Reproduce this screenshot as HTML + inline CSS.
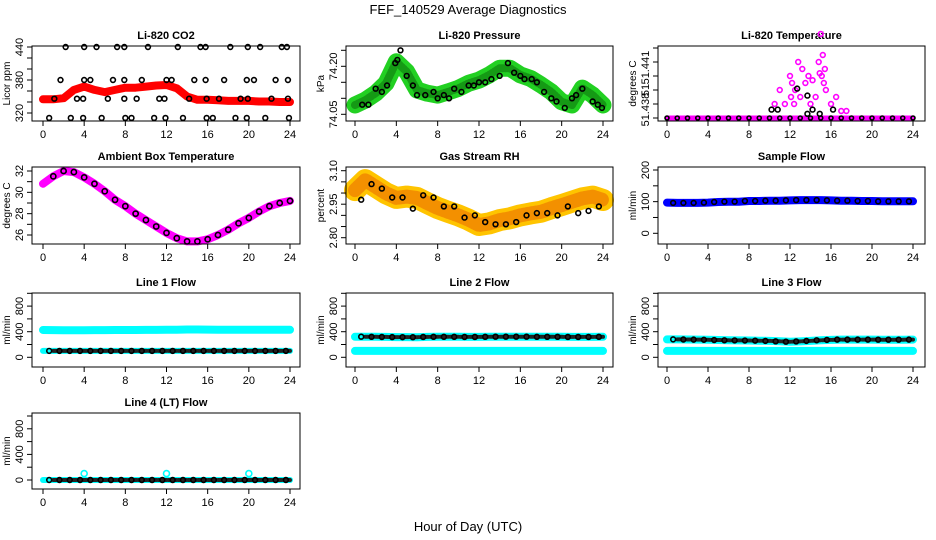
<!DOCTYPE html>
<html><head><meta charset="utf-8">
<style>
html,body{margin:0;padding:0;background:#fff;}
svg{display:block;font-family:"Liberation Sans",Arial,sans-serif;}
</style></head>
<body>
<svg id="chart" width="936" height="540" viewBox="0 0 936 540" xmlns="http://www.w3.org/2000/svg">
<rect width="936" height="540" fill="#fff"/>
<text x="468" y="14" text-anchor="middle" font-size="13">FEF_140529  Average Diagnostics</text>
<text x="468" y="531" text-anchor="middle" font-size="13">Hour of Day (UTC)</text>
</svg>
<script>
// ---------- data ----------
const hours = [0,1,2,3,4,5,6,7,8,9,10,11,12,13,14,15,16,17,18,19,20,21,22,23,24];
const xTicks = [0,4,8,12,16,20,24];

const co2Band = [345,345,347,362,368,362,358,362,366,366,368,370,371,365,350,344,344,343,342,342,342,341,341,340,340];
const co2PtsH = [2.2,4.0,5.2,7.2,7.9,10.2,13.1,15.3,15.8,18.2,19.9,21.1,23.2,23.7,1.7,4.0,4.6,6.8,7.9,9.6,12.0,12.5,14.7,15.8,17.6,19.8,20.5,22.6,23.8,1.1,3.3,3.9,6.3,7.9,9.1,11.3,11.8,14.2,15.9,17.1,19.2,19.9,22.2,23.8,0.6,2.7,3.9,5.7,8.0,8.6,10.8,11.9,13.6,15.9,16.5,18.7,19.8,21.6,23.9];
const co2PtsV = [440,440,440,440,440,440,440,440,440,440,440,440,440,440,380,380,380,380,380,380,380,380,380,380,380,380,380,380,380,346,346,346,346,346,346,346,346,346,346,346,346,346,346,346,311,311,311,311,311,311,311,311,311,311,311,311,311,311,311];

const presBand = [74.079,74.094,74.116,74.147,74.214,74.183,74.126,74.116,74.110,74.120,74.131,74.147,74.157,74.173,74.194,74.194,74.173,74.162,74.142,74.120,74.089,74.079,74.132,74.110,74.079];
const presPtsH = [0.7,1.3,2.0,2.6,3.1,3.9,4.1,4.4,5.0,5.6,6.0,6.8,7.6,8.0,8.6,9.1,9.6,10.3,11.0,11.5,12.0,12.6,13.2,14.0,14.8,15.4,16.0,16.4,17.1,17.6,18.3,19.0,19.5,20.3,21.0,21.4,22.0,23.0,23.5,23.9];
const presPtsV = [74.08,74.08,74.13,74.12,74.14,74.21,74.22,74.25,74.17,74.14,74.11,74.11,74.12,74.10,74.11,74.10,74.13,74.12,74.14,74.14,74.15,74.15,74.16,74.17,74.21,74.18,74.17,74.16,74.16,74.15,74.12,74.10,74.09,74.07,74.10,74.11,74.13,74.09,74.08,74.07];

const tempBand = [0,0,0,0,0,0,0,0,0,0,0,0,0,0,0,0,0,0,0,0,0,0,0,0,0];
const tempMagH = [10.5,11,11.5,12,12.2,12.5,13,13.5,13.8,14,14.5,14.8,15,15.1,15.2,15.5,16,16.5,17,17.5,12.1,12.8,13.2,14.2,15.4,12.4,14.9,15.3];
const tempMagV = [1,2,1,3,2.5,2,1.5,2.5,3,1,1.5,4,6,3,4.5,2,1,1.5,0.5,0.5,1.5,4,3.5,2.7,3.5,1,3.2,2.5];
const tempBlkH = [12.7,13.7,10.2,10.8,14.2,13.7,14.9,16.2];
const tempBlkV = [2.1,1.6,0.6,0.6,0.6,0.3,0.3,0.6];

const ambBand = [30.8,31.5,32.0,31.9,31.4,30.8,30.1,29.3,28.7,28.0,27.4,26.8,26.2,25.7,25.4,25.4,25.6,26.0,26.5,27.1,27.6,28.2,28.7,29.0,29.2];

const rhBand = [3.013,3.058,3.028,2.999,2.978,2.984,2.978,2.955,2.933,2.916,2.900,2.880,2.857,2.864,2.879,2.887,2.900,2.909,2.916,2.932,2.946,2.961,2.976,2.984,2.969];
const rhPtsV = [2.97,3.04,3.02,2.98,2.98,2.93,2.99,2.98,2.94,2.94,2.89,2.90,2.87,2.86,2.86,2.87,2.90,2.91,2.91,2.90,2.94,2.91,2.92,2.94];

const sampleBand = [97,96,96,96,97,99,100,100,102,102,103,103,104,105,105,105,104,103,103,102,102,101,101,101,101];

const line1Cyan = [427,425,424,424,424,425,425,426,426,427,428,428,430,432,434,434,433,432,431,430,430,430,430,430,430];
const line1Black = [100,100,100,100,100,100,100,100,100,100,100,100,100,100,100,100,100,100,100,100,100,100,100,100,100];
const line2Cyan = [100,100,100,100,100,100,100,100,100,100,100,100,100,100,100,100,100,100,100,100,100,100,100,100,100];
const line2Black = [320,322,320,318,316,315,314,318,320,320,320,318,318,320,322,322,322,322,320,320,320,318,318,318,320];
const line3Cyan = [100,100,100,100,100,100,100,100,100,100,100,100,100,100,100,100,100,100,100,100,100,100,100,100,100];
const line3Black = [280,280,278,276,274,270,266,264,262,260,256,250,244,248,256,266,272,276,276,276,276,275,275,275,276];
const line4Cyan = [0,0,0,0,0,0,0,0,0,0,0,0,0,0,0,0,0,0,0,0,0,0,0,0,0];
const line4Black = [0,0,0,0,0,0,0,0,0,0,0,0,0,0,0,0,0,0,0,0,0,0,0,0,0];
const line4SpikeH = [4,12,20];
const line4SpikeV = [100,100,100];

const flowTicks = [0,200,400,600,800,1000];
const flowLabels = [0,400,800];

// ---------- drawing ----------
const NS = 'http://www.w3.org/2000/svg';
const svg = document.getElementById('chart');
function mk(tag, attrs, parent){
  const e = document.createElementNS(NS, tag);
  for (const k in attrs) e.setAttribute(k, attrs[k]);
  (parent||svg).appendChild(e);
  return e;
}
const cols = [{l:32,r:300,x0:43,x24:290},{l:346,r:613,x0:355,x24:603},{l:658,r:925,x0:667,x24:913}];
const rows = [{t:46,b:121},{t:167,b:244},{t:293,b:367},{t:413,b:489}];

function panel(name, ci, ri, title, ylab, yv1, yp1, yv2, yp2, yTicks, yLabs, yLabTexts){
  const c = cols[ci], r = rows[ri];
  const g = mk('g', {});
  
  
  const xs = h => c.x0 + (c.x24 - c.x0) * h / 24;
  const ys = v => yp1 + (v - yv1) * (yp2 - yp1) / (yv2 - yv1);
  const t = mk('text', {x:(c.l+c.r)/2, y:r.t-7, 'text-anchor':'middle', 'font-size':11, 'font-weight':'bold'}, g);
  t.textContent = title;
  
  
  const plot = mk('g', {}, g);
  
  
  const box = mk('rect', {x:c.l, y:r.t, width:c.r-c.l, height:r.b-r.t, fill:'none', stroke:'#000', 'stroke-width':1}, g);
  
  
  const xa = mk('g', {}, g);
  
  
  xTicks.forEach(h => {
    mk('line', {x1:xs(h), x2:xs(h), y1:r.b, y2:r.b+5, stroke:'#000'}, xa);
    const tl = mk('text', {x:xs(h), y:r.b+17, 'text-anchor':'middle', 'font-size':11}, xa);
    tl.textContent = h;
  });
  const ya = mk('g', {}, g);
  
  
  yTicks.forEach(v => mk('line', {x1:c.l-5, x2:c.l, y1:ys(v), y2:ys(v), stroke:'#000'}, ya));
  yLabs.forEach((v,i) => {
    const yy = ys(v), xx = c.l-9;
    const tl = mk('text', {x:xx, y:yy, transform:`rotate(-90 ${xx} ${yy})`, 'text-anchor':'middle', 'font-size':11}, ya);
    tl.textContent = yLabTexts ? yLabTexts[i] : v;
  });
  const yt = mk('text', {x:c.l-22, y:(r.t+r.b)/2, transform:`rotate(-90 ${c.l-22} ${(r.t+r.b)/2})`, 'text-anchor':'middle', 'font-size':10}, g);
  yt.textContent = ylab;
  
  
  return {
    band(hs, vs, color, w, nm, dash){
      const pts = hs.map((h,i) => xs(h).toFixed(1)+','+ys(vs[i]).toFixed(1)).join(' ');
      const at = {points:pts, fill:'none', stroke:color, 'stroke-width':w, 'stroke-linejoin':'round', 'stroke-linecap':'round'};
      if (dash) at['stroke-dasharray'] = dash;
      const p = mk('polyline', at, plot);
      
      
    },
    pts(hs, vs, color, nm, rr){
      hs.forEach((h,i) => {
        const e = mk('circle', {cx:xs(h), cy:ys(vs[i]), r:rr||2.4, fill:'none', stroke:color, 'stroke-width':1.6}, plot);
        
        
      });
    }
  };
}

// CO2
let p = panel('co2', 0, 0, 'Li-820 CO2', 'Licor ppm', 320, 113, 440, 47, [320,340,360,380,400,420,440], [320,380,440]);
p.band(hours, co2Band, '#ff0000', 8, 'co2-band');
p.pts(co2PtsH, co2PtsV, '#000', 'co2-point');

// Pressure
p = panel('pressure', 1, 0, 'Li-820 Pressure', 'kPa', 74.05, 114.3, 74.20, 66.3, [74.05,74.10,74.15,74.20,74.25], [74.05,74.20], ['74.05','74.20']);
p.band(hours, presBand, '#22d022', 17, 'pressure-band');
p.band(hours, presBand, '#159a15', 8, 'pressure-band-core', '1 2');
p.pts(presPtsH, presPtsV, '#000', 'pressure-point');

// Li-820 temperature
p = panel('li820-temp', 2, 0, 'Li-820 Temperature', 'degrees C', 0, 118, 1, 104, [0,1,2,3,4,5], [0.6,2,3.6], ['51.438','51','51.441']);
p.band(hours, tempBand, '#ff00ff', 5, 'li820-temp-band');
p.pts(tempMagH, tempMagV, '#ff00ff', 'li820-temp-point');
p.pts(hours, tempBand, '#000', 'li820-temp-mean-point', 2);
p.pts(tempBlkH, tempBlkV, '#000', 'li820-temp-mean-point');

// Ambient
p = panel('ambient-temp', 0, 1, 'Ambient Box Temperature', 'degrees C', 26, 235, 32, 171, [26,27,28,29,30,31,32], [26,28,30,32]);
p.band(hours, ambBand, '#ff00ff', 8, 'ambient-temp-band');
p.pts(hours.slice(1), ambBand.slice(1), '#000', 'ambient-temp-point', 2.6);

// RH
p = panel('gas-rh', 1, 1, 'Gas Stream RH', 'percent', 2.80, 237.7, 3.10, 170.7, [2.80,2.85,2.90,2.95,3.00,3.05,3.10], [2.80,2.95,3.10], ['2.80','2.95','3.10']);
p.band(hours, rhBand, '#ffc400', 22, 'gas-rh-band');
p.band(hours, rhBand, '#f39000', 14, 'gas-rh-band-core', '2 2');
p.pts(hours.slice(1).map(h => h - 0.4), rhPtsV, '#000', 'gas-rh-point');

// Sample flow
p = panel('sample-flow', 2, 1, 'Sample Flow', 'ml/min', 0, 233.3, 200, 170, [0,50,100,150,200], [0,100,200]);
p.band(hours, sampleBand, '#0000ff', 8, 'sample-flow-band');
p.pts(hours.slice(1).map(h => h - 0.4), sampleBand.slice(1), '#000', 'sample-flow-point');

// Line 1
p = panel('line1-flow', 0, 2, 'Line 1 Flow', 'ml/min', 0, 357.3, 200, 344.5, flowTicks, flowLabels);
p.band(hours, line1Cyan, '#00ffff', 8, 'line1-flow-band');
p.band(hours, line1Black, '#00ffff', 6, 'line1-flow-band-low');
p.band(hours.slice(1), line1Black.slice(1), '#222', 4, 'line1-flow-mean-band', '3 2');
p.pts(hours.slice(1).map(h => h - 0.4), line1Black.slice(1), '#000', 'line1-flow-point');

// Line 2
p = panel('line2-flow', 1, 2, 'Line 2 Flow', 'ml/min', 0, 357.3, 200, 344.5, flowTicks, flowLabels);
p.band(hours, line2Cyan, '#00ffff', 8, 'line2-flow-band');
p.band(hours, line2Black, '#00ffff', 8, 'line2-flow-band-high');
p.band(hours.slice(1), line2Black.slice(1), '#222', 4, 'line2-flow-mean-band', '3 2');
p.pts(hours.slice(1).map(h => h - 0.4), line2Black.slice(1), '#000', 'line2-flow-point');

// Line 3
p = panel('line3-flow', 2, 2, 'Line 3 Flow', 'ml/min', 0, 357.3, 200, 344.5, flowTicks, flowLabels);
p.band(hours, line3Cyan, '#00ffff', 8, 'line3-flow-band');
p.band(hours, line3Black, '#00ffff', 8, 'line3-flow-band-high');
p.band(hours.slice(1), line3Black.slice(1), '#222', 4, 'line3-flow-mean-band', '3 2');
p.pts(hours.slice(1).map(h => h - 0.4), line3Black.slice(1), '#000', 'line3-flow-point');

// Line 4
p = panel('line4-flow', 0, 3, 'Line 4 (LT) Flow', 'ml/min', 0, 480, 200, 467.2, flowTicks, flowLabels);
p.band(hours, line4Cyan, '#00ffff', 6, 'line4-flow-band');
p.band(hours.slice(1), line4Black.slice(1), '#222', 4, 'line4-flow-mean-band', '3 2');
p.pts(hours.slice(1).map(h => h - 0.4), line4Black.slice(1), '#000', 'line4-flow-point');
p.pts(line4SpikeH, line4SpikeV, '#00ffff', 'line4-flow-spike-point', 3);
</script>
</body></html>
